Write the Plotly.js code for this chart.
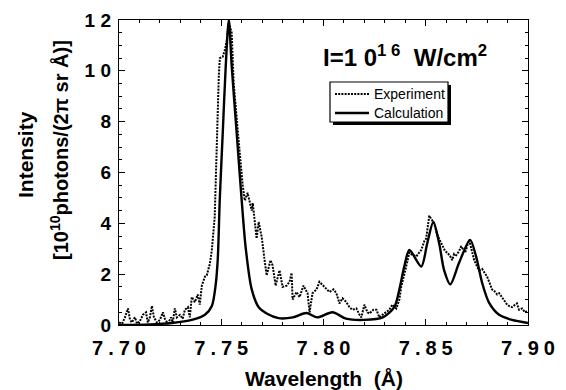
<!DOCTYPE html>
<html>
<head>
<meta charset="utf-8">
<script src="https://cdn.plot.ly/plotly-3.0.1.min.js"></script>
<style>html,body{margin:0;padding:0;background:#fff;}#chart{width:566px;height:390px;}</style>
</head>
<body>
<div id="chart"></div>
<script>
// Calculation (solid)
const calcWl = [7.7000,7.7150,7.7259,7.7356,7.7420,7.7454,7.7473,7.7483,7.7493,7.7507,7.7522,7.7537,7.7551,7.7576,7.7600,7.7620,7.7649,7.7683,7.7722,7.7780,7.7850,7.7917,7.7970,7.8044,7.8110,7.8200,7.8290,7.8346,7.8371,7.8395,7.8420,7.8478,7.8507,7.8537,7.8566,7.8590,7.8620,7.8663,7.8717,7.8746,7.8776,7.8810,7.8859,7.8922,7.9000];
const calcI  = [0.00,0.02,0.08,0.20,0.40,0.75,1.60,2.60,5.00,7.50,10.20,12.00,10.20,7.50,4.90,3.00,1.40,0.70,0.45,0.27,0.30,0.47,0.30,0.50,0.25,0.20,0.30,0.70,1.40,2.30,2.95,2.30,3.20,4.05,3.20,2.15,1.60,2.45,3.35,2.70,1.65,0.87,0.40,0.20,0.08];

// Experiment (dotted)
const expWl = [7.7000,7.7015,7.7029,7.7044,7.7054,7.7063,7.7078,7.7088,7.7102,7.7117,7.7132,7.7141,7.7151,7.7161,7.7171,7.7185,7.7200,7.7215,7.7224,7.7239,7.7254,7.7263,7.7273,7.7283,7.7298,7.7312,7.7322,7.7337,7.7346,7.7356,7.7371,7.7385,7.7395,7.7405,7.7420,7.7429,7.7444,7.7454,7.7468,7.7478,7.7488,7.7493,7.7507,7.7517,7.7527,7.7537,7.7551,7.7561,7.7571,7.7580,7.7590,7.7605,7.7615,7.7629,7.7649,7.7654,7.7663,7.7673,7.7683,7.7698,7.7712,7.7722,7.7741,7.7751,7.7766,7.7785,7.7800,7.7820,7.7834,7.7844,7.7849,7.7868,7.7883,7.7902,7.7922,7.7932,7.7946,7.7966,7.7980,7.8005,7.8029,7.8049,7.8063,7.8078,7.8093,7.8112,7.8127,7.8141,7.8161,7.8176,7.8185,7.8200,7.8215,7.8224,7.8244,7.8259,7.8273,7.8288,7.8307,7.8322,7.8337,7.8356,7.8371,7.8380,7.8400,7.8420,7.8434,7.8454,7.8468,7.8478,7.8493,7.8502,7.8517,7.8532,7.8541,7.8556,7.8571,7.8580,7.8595,7.8605,7.8620,7.8629,7.8639,7.8649,7.8663,7.8673,7.8693,7.8712,7.8727,7.8737,7.8751,7.8761,7.8776,7.8785,7.8800,7.8810,7.8824,7.8834,7.8849,7.8859,7.8873,7.8888,7.8898,7.8907,7.8922,7.8937,7.8946,7.8956,7.8971,7.8985,7.8995];
const expI  = [0.10,0.05,0.30,0.65,0.20,0.10,0.30,0.05,0.15,0.40,0.50,0.10,0.30,0.75,0.30,0.10,0.20,0.50,0.25,0.05,0.30,0.10,0.65,0.30,0.40,0.25,0.60,0.70,0.30,1.10,0.90,1.20,0.80,1.55,1.90,1.95,2.40,2.95,4.25,7.55,9.80,10.50,10.55,10.80,11.20,11.90,11.50,9.50,8.50,7.55,6.80,5.50,4.90,5.20,4.50,4.80,4.20,3.40,4.05,3.45,2.55,1.95,2.55,2.35,1.55,2.15,1.50,1.55,1.70,2.05,1.00,1.30,1.10,1.55,1.25,0.50,1.25,1.40,1.70,1.50,1.30,1.40,1.25,0.85,1.05,0.90,0.70,0.60,0.65,0.40,0.30,0.80,0.50,0.45,0.60,0.60,0.30,0.40,0.50,0.60,0.80,0.65,1.00,1.50,2.15,2.85,2.75,2.70,2.85,2.95,3.30,3.40,4.30,4.10,4.00,3.55,3.30,3.10,2.90,2.85,2.70,2.55,2.80,2.75,2.90,3.10,2.85,3.35,2.90,2.55,2.30,2.15,2.20,2.10,1.90,1.70,1.40,1.35,1.20,1.25,1.10,0.90,0.80,0.75,0.70,0.80,0.85,0.60,0.65,0.50,0.55];

const seriesNames = ['Experiment','Calculation'];
const xTickVals = [7.70,7.75,7.80,7.85,7.90];
const xTickText = ['7\u2005.\u20057\u20050','7\u2005.\u20057\u20055','7\u2005.\u20058\u20050','7\u2005.\u20058\u20055','7\u2005.\u20059\u20050'];
const yTickVals = [0,2,4,6,8,10,12];
const yTickText = ['0','2','4','6','8','1\u00a00','1\u00a02'];

const F = '"Liberation Sans", Arial, Helvetica, sans-serif';
const L = 119, T = 20, W = 409, H = 305;
const px = v => (v - L) / W;          // paper x from pixel
const py = v => (T + H - v) / H;      // paper y from pixel

const traces = [
  {x: expWl, y: expI, type:'scatter', mode:'lines', name:seriesNames[0],
   line:{color:'#000', width:2, dash:'2px,1.2px'}},
  {x: calcWl, y: calcI, type:'scatter', mode:'lines', name:seriesNames[1],
   line:{color:'#000', width:2.4, shape:'spline', smoothing:0.8}}
];

const layout = {
  width:566, height:390,
  margin:{l:L, r:566-L-W, t:T, b:390-T-H},
  paper_bgcolor:'#fff', plot_bgcolor:'#fff',
  showlegend:false,
  xaxis:{range:[7.70,7.90], tickvals:xTickVals, ticktext:xTickText,
    ticks:'inside', ticklen:6, tickwidth:1, tickcolor:'#000',
    minor:{dtick:0.01, ticks:'inside', ticklen:3, tickcolor:'#000'},
    showline:true, linecolor:'#000', linewidth:1.2, mirror:'allticks',
    showgrid:false, zeroline:false, ticklabelstandoff:5,
    tickfont:{family:F, size:20, color:'#000', weight:'bold'}},
  yaxis:{range:[0,12], tickvals:yTickVals, ticktext:yTickText,
    ticks:'inside', ticklen:6, tickwidth:1, tickcolor:'#000',
    minor:{dtick:0.5, ticks:'inside', ticklen:3, tickcolor:'#000'},
    showline:true, linecolor:'#000', linewidth:1.2, mirror:'allticks',
    showgrid:false, zeroline:false, ticklabelstandoff:3,
    tickfont:{family:F, size:19, color:'#000', weight:'bold'}},
  annotations:[
    {xref:'paper', yref:'paper', x:px(405), y:py(56), xanchor:'center', yanchor:'middle',
     text:'I=1\u00a00<sup>1\u00a06</sup>\u00a0\u00a0W/cm<sup>2</sup>', showarrow:false,
     font:{family:F, size:24, color:'#000', weight:'bold'}},
    {xref:'paper', yref:'paper', x:px(25), y:py(155), xanchor:'center', yanchor:'middle',
     text:'Intensity', textangle:-90, showarrow:false,
     font:{family:F, size:21, color:'#000', weight:'bold'}},
    {xref:'paper', yref:'paper', x:px(59), y:py(150), xanchor:'center', yanchor:'middle',
     text:'[10<sup>10</sup>photons/(2π sr Å)]', textangle:-90, showarrow:false,
     font:{family:F, size:20, color:'#000', weight:'bold'}},
    {xref:'paper', yref:'paper', x:0.5, y:py(378), xanchor:'center', yanchor:'middle',
     text:'Wavelength\u00a0\u00a0(Å)', showarrow:false,
     font:{family:F, size:21, color:'#000', weight:'bold'}},
    {xref:'paper', yref:'paper', x:px(372), y:py(94), xanchor:'left', yanchor:'middle',
     text:seriesNames[0], showarrow:false, font:{family:F, size:14, color:'#000'}},
    {xref:'paper', yref:'paper', x:px(372), y:py(113), xanchor:'left', yanchor:'middle',
     text:seriesNames[1], showarrow:false, font:{family:F, size:14, color:'#000'}}
  ],
  shapes:[
    {type:'rect', xref:'paper', yref:'paper', x0:px(333), x1:px(451), y0:py(125), y1:py(85),
     fillcolor:'#000', line:{width:0}, layer:'above'},
    {type:'rect', xref:'paper', yref:'paper', x0:px(330), x1:px(448), y0:py(122), y1:py(82),
     fillcolor:'#fff', line:{color:'#000', width:1.2}, layer:'above'},
    {type:'line', xref:'paper', yref:'paper', x0:px(335), x1:px(369), y0:py(94), y1:py(94),
     line:{color:'#000', width:1.8, dash:'2px,1.2px'}, layer:'above'},
    {type:'line', xref:'paper', yref:'paper', x0:px(335), x1:px(369), y0:py(113), y1:py(113),
     line:{color:'#000', width:2.4}, layer:'above'}
  ]
};

Plotly.newPlot('chart', traces, layout, {displayModeBar:false, staticPlot:true});
</script>
</body>
</html>
